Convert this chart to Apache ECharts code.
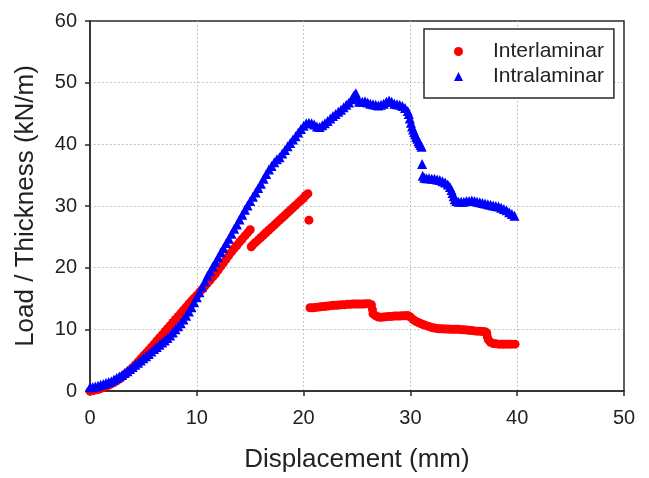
<!DOCTYPE html>
<html>
<head>
<meta charset="utf-8">
<script src="https://cdn.jsdelivr.net/npm/echarts@6/dist/echarts.min.js"></script>
<style>
  html, body { margin: 0; padding: 0; background: #ffffff; }
  #chart { width: 649px; height: 478px; }
</style>
</head>
<body>
<div id="chart"></div>
<script>
// Axis ticks
const xTicks = [0, 10, 20, 30, 40, 50];
const yTicks = [0, 10, 20, 30, 40, 50, 60];

const seriesNames = ['Interlaminar', 'Intralaminar'];

// Interlaminar specimen: [displacement (mm), load / thickness (kN/m)]
const interRise = [
  [0, 0.0], [0.25, 0.05], [0.5, 0.15], [0.75, 0.25], [1, 0.4], [1.25, 0.55], [1.5, 0.75], [1.75, 0.95],
  [2, 1.15], [2.25, 1.4], [2.5, 1.65], [2.75, 1.95], [3, 2.3], [3.25, 2.65], [3.5, 3.0], [3.75, 3.4],
  [4, 3.8], [4.25, 4.25], [4.5, 4.7], [4.75, 5.2], [5, 5.7], [5.25, 6.15], [5.5, 6.6], [5.75, 7.1],
  [6, 7.6], [6.25, 8.1], [6.5, 8.6], [6.75, 9.1], [7, 9.6], [7.25, 10.1], [7.5, 10.6], [7.75, 11.1],
  [8, 11.6], [8.25, 12.1], [8.5, 12.6], [8.75, 13.1], [9, 13.6], [9.25, 14.1], [9.5, 14.6], [9.75, 15.05],
  [10, 15.5], [10.25, 16.0], [10.5, 16.5], [10.75, 17.0], [11, 17.5], [11.25, 18.0], [11.5, 18.5], [11.75, 19.0],
  [12, 19.6], [12.25, 20.2], [12.5, 20.8], [12.75, 21.4], [13, 22.0], [13.25, 22.55], [13.5, 23.1], [13.75, 23.6],
  [14, 24.15], [14.25, 24.65], [14.5, 25.15], [14.75, 25.65], [15, 26.15]
];
const interReload = [
  [15.1, 23.4], [15.25, 23.7], [15.5, 24.1], [15.75, 24.5], [16, 24.9], [16.25, 25.3], [16.5, 25.7], [16.75, 26.1],
  [17, 26.5], [17.25, 26.9], [17.5, 27.3], [17.75, 27.7], [18, 28.1], [18.25, 28.5], [18.5, 28.9], [18.75, 29.3],
  [19, 29.7], [19.25, 30.1], [19.5, 30.5], [19.75, 30.9], [20, 31.3], [20.2, 31.7], [20.4, 32.0]
];
const interDrop = [[20.5, 27.7]];
const interTail = [
  [20.6, 13.5], [20.85, 13.5], [21.1, 13.55], [21.35, 13.6], [21.6, 13.65], [21.85, 13.7], [22.1, 13.75], [22.35, 13.8],
  [22.6, 13.85], [22.85, 13.9], [23.1, 13.9], [23.35, 13.95], [23.6, 14.0], [23.85, 14.0], [24.1, 14.05], [24.35, 14.05],
  [24.6, 14.1], [24.85, 14.1], [25.1, 14.1], [25.35, 14.1], [25.6, 14.1], [25.85, 14.15], [26.1, 14.15], [26.35, 14.0],
  [26.45, 13.2], [26.5, 12.5], [26.75, 12.2], [27, 12.0], [27.25, 11.95], [27.5, 12.0], [27.75, 12.05], [28, 12.1],
  [28.25, 12.1], [28.5, 12.15], [28.75, 12.15], [29, 12.15], [29.25, 12.2], [29.5, 12.2], [29.75, 12.25], [30, 12.0],
  [30.25, 11.6], [30.5, 11.3], [30.75, 11.1], [31, 10.9], [31.25, 10.75], [31.5, 10.6], [31.75, 10.45], [32, 10.3],
  [32.25, 10.2], [32.5, 10.15], [32.75, 10.1], [33, 10.1], [33.25, 10.05], [33.5, 10.05], [33.75, 10.0], [34, 10.0],
  [34.25, 10.0], [34.5, 10.0], [34.75, 9.95], [35, 9.95], [35.25, 9.9], [35.5, 9.85], [35.75, 9.8], [36, 9.75],
  [36.25, 9.7], [36.5, 9.7], [36.75, 9.65], [37, 9.6], [37.15, 9.4], [37.2, 8.8], [37.3, 8.3], [37.5, 7.9],
  [37.75, 7.7], [38, 7.65], [38.25, 7.6], [38.5, 7.6], [38.75, 7.6], [39, 7.6], [39.25, 7.6], [39.5, 7.6], [39.8, 7.6]
];

// Intralaminar specimen: [displacement (mm), load / thickness (kN/m)]
const intraRise = [
  [0, 0.6], [0.25, 0.65], [0.5, 0.75], [0.75, 0.85], [1, 1.0], [1.25, 1.15], [1.5, 1.3], [1.75, 1.45],
  [2, 1.6], [2.25, 1.85], [2.5, 2.1], [2.75, 2.35], [3, 2.6], [3.25, 2.9], [3.5, 3.2], [3.75, 3.55],
  [4, 3.9], [4.25, 4.25], [4.5, 4.6], [4.75, 4.95], [5, 5.3], [5.25, 5.65], [5.5, 6.0], [5.75, 6.4],
  [6, 6.8], [6.25, 7.15], [6.5, 7.5], [6.75, 7.85], [7, 8.2], [7.25, 8.6], [7.5, 9.0], [7.75, 9.5],
  [8, 10.0], [8.25, 10.5], [8.5, 11.0], [8.75, 11.6], [9, 12.2], [9.25, 12.9], [9.5, 13.6], [9.75, 14.4],
  [10, 15.2], [10.25, 16.0], [10.5, 16.9], [10.75, 17.8], [11, 18.7], [11.25, 19.4], [11.5, 20.2], [11.75, 20.9],
  [12, 21.7], [12.25, 22.5], [12.5, 23.2], [12.75, 24.0], [13, 24.7], [13.25, 25.5], [13.5, 26.3], [13.75, 27.0],
  [14, 27.8], [14.25, 28.6], [14.5, 29.4], [14.75, 30.1], [15, 30.8], [15.25, 31.5], [15.5, 32.2], [15.75, 32.9],
  [16, 33.6], [16.25, 34.4], [16.5, 35.2], [16.75, 35.9], [17, 36.5], [17.25, 37.1], [17.5, 37.6], [17.75, 37.9],
  [18, 38.5], [18.25, 39.1], [18.5, 39.7], [18.75, 40.2], [19, 40.8], [19.25, 41.3], [19.5, 41.9], [19.75, 42.5],
  [20, 43.0], [20.25, 43.4], [20.5, 43.5], [20.75, 43.4], [21, 43.2], [21.25, 42.9], [21.5, 42.8], [21.75, 43.1],
  [22, 43.4], [22.25, 43.8], [22.5, 44.2], [22.75, 44.6], [23, 44.9], [23.25, 45.3], [23.5, 45.6], [23.75, 46.0],
  [24, 46.4], [24.25, 46.8], [24.5, 47.3], [24.65, 47.7], [24.75, 48.0], [24.9, 48.3]
];
const intraPlateau = [
  [25.05, 47.6], [25.2, 46.9], [25.5, 46.9], [25.75, 47.0], [26, 46.8], [26.25, 46.6], [26.5, 46.5], [26.75, 46.4],
  [27, 46.3], [27.25, 46.4], [27.5, 46.6], [27.75, 46.9], [28, 47.1], [28.25, 46.9], [28.5, 46.6], [28.75, 46.5],
  [29, 46.4], [29.25, 46.2], [29.5, 45.9], [29.75, 45.4], [29.85, 44.9], [29.95, 44.2], [30.05, 43.5], [30.15, 42.9],
  [30.25, 42.4], [30.35, 42.0], [30.45, 41.6], [30.55, 41.2], [30.65, 40.9], [30.75, 40.5], [30.85, 40.2], [30.95, 39.9],
  [31.05, 39.6]
];
const intraDrop = [[31.1, 36.8]];
const intraTail = [
  [31.15, 34.9], [31.3, 34.6], [31.5, 34.5], [31.75, 34.5], [32, 34.4], [32.25, 34.4], [32.5, 34.3], [32.75, 34.2],
  [33, 34.0], [33.25, 33.8], [33.5, 33.5], [33.7, 33.1], [33.85, 32.6], [33.95, 32.1], [34.05, 31.6], [34.15, 31.1],
  [34.3, 30.8], [34.5, 30.7], [34.75, 30.7], [35, 30.7], [35.25, 30.8], [35.5, 30.8], [35.75, 30.9], [36, 30.8],
  [36.25, 30.7], [36.5, 30.6], [36.75, 30.5], [37, 30.4], [37.25, 30.3], [37.5, 30.2], [37.75, 30.1], [38, 30.0],
  [38.25, 29.9], [38.5, 29.7], [38.75, 29.5], [39, 29.3], [39.25, 29.0], [39.5, 28.7], [39.75, 28.4]
];

const FONT = '"Liberation Sans", Arial, Helvetica, sans-serif';
const INK = '#222222';

const chart = echarts.init(document.getElementById('chart'), null, { renderer: 'canvas' });

const axisLineStyle = { color: '#2a2a2a', width: 1.5 };
const gridDots = { color: '#b4b4b4', width: 1, type: [1.5, 2.5] };

chart.setOption({
  animation: false,
  backgroundColor: '#ffffff',
  grid: {
    left: 90, top: 21, width: 534, height: 373,
    show: true, borderColor: '#2a2a2a', borderWidth: 1.5, backgroundColor: 'transparent'
  },
  legend: {
    data: seriesNames,
    orient: 'vertical',
    left: 424, top: 29,
    itemWidth: 9, itemHeight: 9, itemGap: 4,
    symbolKeepAspect: true,
    padding: [12, 10, 11, 30],
    borderColor: '#2a2a2a', borderWidth: 1.5,
    backgroundColor: '#ffffff',
    textStyle: { fontFamily: FONT, fontSize: 21, color: INK, padding: [0, 0, 0, 25] }
  },
  xAxis: {
    type: 'value',
    min: xTicks[0], max: xTicks[xTicks.length - 1], interval: xTicks[1] - xTicks[0],
    name: 'Displacement (mm)',
    nameLocation: 'middle', nameGap: 69,
    nameTextStyle: { fontFamily: FONT, fontSize: 26, color: INK, verticalAlign: 'middle' },
    axisLine: { show: true, onZero: false, lineStyle: axisLineStyle },
    axisTick: { show: true, inside: false, length: 5, lineStyle: axisLineStyle },
    axisLabel: { fontFamily: FONT, fontSize: 20, color: INK, margin: 17 },
    splitLine: { show: true, showMinLine: false, showMaxLine: false, lineStyle: gridDots }
  },
  yAxis: {
    type: 'value',
    min: yTicks[0], max: yTicks[yTicks.length - 1], interval: yTicks[1] - yTicks[0],
    name: 'Load / Thickness (kN/m)',
    nameLocation: 'middle', nameGap: 64,
    nameTextStyle: { fontFamily: FONT, fontSize: 26, color: INK, verticalAlign: 'middle' },
    axisLine: { show: true, onZero: false, lineStyle: axisLineStyle },
    axisTick: { show: true, inside: false, length: 5, lineStyle: axisLineStyle },
    axisLabel: { fontFamily: FONT, fontSize: 20, color: INK, margin: 13 },
    splitLine: { show: true, showMinLine: false, showMaxLine: false, lineStyle: gridDots }
  },
  series: [
    {
      name: seriesNames[0],
      type: 'scatter',
      symbol: 'circle',
      symbolSize: 9,
      itemStyle: { color: '#ff0000', opacity: 1 },
      emphasis: { disabled: true },
      data: interRise.concat(interReload, interDrop, interTail)
    },
    {
      name: seriesNames[1],
      type: 'scatter',
      symbol: 'triangle',
      symbolSize: 10,
      itemStyle: { color: '#0000ff', opacity: 1 },
      emphasis: { disabled: true },
      data: intraRise.concat(intraPlateau, intraDrop, intraTail)
    }
  ]
});
</script>
</body>
</html>
